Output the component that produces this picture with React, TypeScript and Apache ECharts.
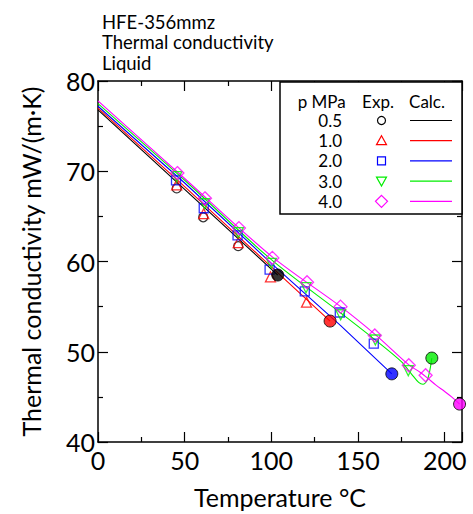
import React, { useEffect, useRef } from 'react';
import * as echarts from 'echarts';

const FONT = 'Lato, "Noto Sans", sans-serif';

const titleLines = ['HFE-356mmz', 'Thermal conductivity', 'Liquid'];
const pressures = ['0.5', '1.0', '2.0', '3.0', '4.0'];
const colors = ['#000000', '#ff0000', '#0000ff', '#00ee00', '#ff00ff'];
const symbols = ['circle', 'triangle', 'rect', 'triangle', 'diamond'];
const symbolRotates = [0, 0, 0, 180, 0];
const symbolSizes = [9, 10, 9, 10, 13];

// Experimental data (T °C, λ mW/(m·K))
const expT05 = [45.4, 60.7, 80.9];
const expK05 = [68.1, 64.9, 61.7];
const expT10 = [45.4, 61.0, 80.9, 99.5, 120.3];
const expK10 = [68.5, 65.3, 62.1, 58.3, 55.5];
const expT20 = [45.0, 61.0, 80.5, 99.0, 119.3, 139.5, 159.1];
const expK20 = [69.0, 65.9, 62.9, 59.1, 56.7, 54.35, 50.9];
const expT30 = [45.5, 61.5, 81.0, 100.0, 120.0, 140.0, 160.0, 179.0];
const expK30 = [69.4, 66.4, 63.2, 59.8, 57.1, 54.1, 51.3, 47.9];
const expT40 = [45.8, 61.7, 81.3, 100.6, 120.6, 139.9, 159.7, 179.3, 189.0];
const expK40 = [69.8, 67.0, 63.7, 60.4, 57.7, 55.0, 51.8, 48.5, 47.4];

// Calculated curves
const calcT05 = [0, 50, 103.7];
const calcK05 = [76.8, 68.0, 58.5];
const calcT10 = [0, 50, 100, 133.9];
const calcK10 = [77.0, 68.3, 59.4, 53.4];
const calcT20 = [0, 50, 100, 140, 169.5];
const calcK20 = [77.2, 68.7, 59.8, 52.9, 47.55];
const calcT30 = [0, 50, 100, 140, 160, 175, 181, 185, 187.5, 190, 191.5, 192.6];
const calcK30 = [77.5, 69.0, 60.2, 54.3, 51.3, 48.9, 47.5, 46.6, 46.4, 46.9, 48.0, 49.3];
const calcT40 = [0, 50, 100, 140, 160, 179, 186, 190, 195, 200, 204, 208.6];
const calcK40 = [77.8, 69.2, 60.6, 55.0, 51.9, 48.6, 47.7, 47.1, 46.3, 45.6, 45.0, 44.2];

// Saturation points
const satT = [103.7, 133.9, 169.5, 192.6, 208.6];
const satK = [58.5, 53.4, 47.55, 49.3, 44.2];

const expT = [expT05, expT10, expT20, expT30, expT40];
const expK = [expK05, expK10, expK20, expK30, expK40];
const calcT = [calcT05, calcT10, calcT20, calcT30, calcT40];
const calcK = [calcK05, calcK10, calcK20, calcK30, calcK40];

const zip = (a: number[], b: number[]) => a.map((v, i) => [v, b[i]]);

function buildOption() {
  const axisLine = { show: true, onZero: false, lineStyle: { color: '#000', width: 1.5 } };
  const axisTick = { show: true, inside: true, length: 10, lineStyle: { color: '#000', width: 1.2 } };
  const minorTick = { show: true, splitNumber: 2, length: 5, lineStyle: { color: '#000', width: 1.2 } };

  const series: any[] = [];
  pressures.forEach((p, i) => {
    series.push({
      type: 'line',
      name: 'calc ' + p,
      data: zip(calcT[i], calcK[i]),
      showSymbol: false,
      smooth: i >= 3 ? 0.3 : false,
      lineStyle: { color: colors[i], width: 1.1 },
      z: 2,
    });
  });
  pressures.forEach((p, i) => {
    series.push({
      type: 'scatter',
      name: 'exp ' + p,
      data: zip(expT[i], expK[i]),
      symbol: symbols[i],
      symbolRotate: symbolRotates[i],
      symbolSize: symbolSizes[i],
      itemStyle: { color: 'rgba(0,0,0,0)', borderColor: colors[i], borderWidth: 1.3 },
      z: 3,
    });
  });
  series.push({
    type: 'scatter',
    name: 'sat',
    data: satT.map((t, i) => ({ value: [t, satK[i]], itemStyle: { color: colors[i] } })),
    symbol: 'circle',
    symbolSize: 12,
    itemStyle: { borderColor: '#000', borderWidth: 1 },
    z: 4,
  });

  const graphic: any[] = [];
  titleLines.forEach((t, i) => {
    graphic.push({
      type: 'text',
      x: 102,
      y: 21.7 + i * 20.5,
      style: {
        text: t, fill: '#000', font: `18.5px ${FONT}`,
        align: 'left', verticalAlign: 'middle', textAlign: 'left', textVerticalAlign: 'middle',
      },
    });
  });

  // Legend table
  const lx = 280, ly = 82, lw = 182, lh = 132;
  graphic.push({
    type: 'rect', z: 100,
    shape: { x: lx, y: ly, width: lw, height: lh },
    style: { fill: '#fff', stroke: '#000', lineWidth: 1.5 },
  });
  const txt = (text: string, x: number, y: number, align: string) => ({
    type: 'text', z: 101, x, y,
    style: {
      text, fill: '#000', font: `17px ${FONT}`,
      align, verticalAlign: 'middle', textAlign: align, textVerticalAlign: 'middle',
    },
  });
  graphic.push(txt('p MPa', 321.7, 101, 'center'));
  graphic.push(txt('Exp.', 378, 101, 'center'));
  graphic.push(txt('Calc.', 427, 101, 'center'));
  const mx = 381.5;
  pressures.forEach((p, i) => {
    const y = 120.5 + i * 20.2;
    graphic.push(txt(p, 342, y, 'right'));
    const st = { fill: 'none', stroke: colors[i], lineWidth: 1.2 };
    if (i === 0) graphic.push({ type: 'circle', z: 101, shape: { cx: mx, cy: y, r: 4 }, style: st });
    if (i === 1) graphic.push({ type: 'polygon', z: 101, shape: { points: [[mx, y - 5], [mx + 5, y + 4], [mx - 5, y + 4]] }, style: st });
    if (i === 2) graphic.push({ type: 'rect', z: 101, shape: { x: mx - 4, y: y - 4, width: 8, height: 8 }, style: st });
    if (i === 3) graphic.push({ type: 'polygon', z: 101, shape: { points: [[mx - 5, y - 4], [mx + 5, y - 4], [mx, y + 5]] }, style: st });
    if (i === 4) graphic.push({ type: 'polygon', z: 101, shape: { points: [[mx, y - 6], [mx + 6, y], [mx, y + 6], [mx - 6, y]] }, style: st });
    graphic.push({
      type: 'line', z: 101,
      shape: { x1: 410, y1: y, x2: 452, y2: y },
      style: { stroke: colors[i], lineWidth: 1.2 },
    });
  });

  return {
    animation: false,
    backgroundColor: '#fff',
    textStyle: { fontFamily: FONT },
    grid: { left: 98, right: 11, top: 81, bottom: 72, containLabel: false },
    xAxis: [
      {
        type: 'value', min: 0, max: 210, interval: 50, position: 'bottom',
        axisLine, axisTick, minorTick, splitLine: { show: false },
        axisLabel: { fontSize: 25, color: '#000', margin: 5, fontFamily: FONT, showMaxLabel: false },
        name: 'Temperature °C', nameLocation: 'middle', nameGap: 42,
        nameTextStyle: { fontSize: 25, color: '#000', fontFamily: FONT },
      },
      {
        type: 'value', min: 0, max: 210, interval: 50, position: 'top',
        axisLine, axisTick, minorTick, splitLine: { show: false },
        axisLabel: { show: false },
      },
    ],
    yAxis: [
      {
        type: 'value', min: 40, max: 80, interval: 10, position: 'left',
        axisLine, axisTick, minorTick, splitLine: { show: false },
        axisLabel: { fontSize: 25, color: '#000', margin: 3, fontFamily: FONT },
        name: 'Thermal conductivity mW/(m·K)', nameLocation: 'middle', nameGap: 55,
        nameTextStyle: { fontSize: 25, color: '#000', fontFamily: FONT },
      },
      {
        type: 'value', min: 40, max: 80, interval: 10, position: 'right',
        axisLine, axisTick, minorTick, splitLine: { show: false },
        axisLabel: { show: false },
      },
    ],
    series,
    graphic,
  };
}

export default function App() {
  const ref = useRef<HTMLDivElement>(null);
  useEffect(() => {
    if (!ref.current) return;
    const chart = echarts.init(ref.current, null, { renderer: 'svg' });
    chart.setOption(buildOption() as any);
    return () => chart.dispose();
  }, []);
  return (
    <div
      ref={ref}
      style={{ position: 'fixed', left: 0, top: 0, width: 473, height: 514, background: '#fff' }}
    />
  );
}
